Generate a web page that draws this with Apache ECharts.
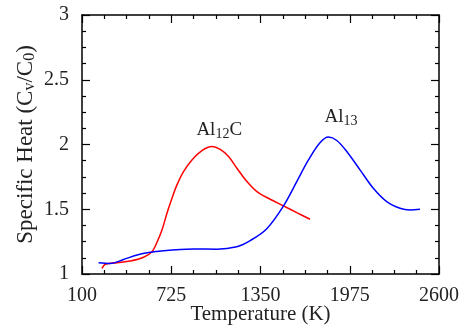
<!DOCTYPE html>
<html><head><meta charset="utf-8">
<script src="https://cdn.jsdelivr.net/npm/echarts@6/dist/echarts.min.js"></script>
<style>html,body{margin:0;padding:0;background:#fff}#c{width:466px;height:328px}</style>
</head><body><div id="c"></div>
<script>
const xTicks = [100, 725, 1350, 1975, 2600];
const yTicks = [1, 1.5, 2, 2.5, 3];
const al12cT = [240,263,345,438,531,590,625,660,695,730,765,811,870,940,1010,1068,1126,1185,1255,1325,1418,1511,1604,1697];
const al12cCv = [1.044,1.075,1.087,1.1,1.129,1.172,1.245,1.34,1.469,1.585,1.688,1.791,1.881,1.953,1.984,1.962,1.907,1.817,1.714,1.636,1.577,1.526,1.474,1.423];
const al13T = [216,298,391,485,578,671,788,881,1044,1184,1278,1394,1511,1604,1686,1768,1826,1884,1954,2047,2140,2234,2327,2397,2467];
const al13Cv = [1.087,1.081,1.112,1.147,1.168,1.18,1.19,1.193,1.192,1.211,1.258,1.35,1.526,1.714,1.881,2.015,2.057,2.031,1.946,1.804,1.662,1.559,1.508,1.495,1.5];
const labelAl12C = {x: 1061, y: 2.11};
const labelAl13 = {x: 1914, y: 2.21};

const font = 'Liberation Serif';
const txt = '#222';
const zip = (a, b) => a.map((v, i) => [v, b[i]]);
const axisCommon = {
  axisLine: {lineStyle: {color: '#000', width: 1.5}},
  axisTick: {inside: true, length: 8, lineStyle: {color: '#000', width: 1.2}},
  minorTick: {show: true, splitNumber: 4, length: 4, lineStyle: {color: '#000', width: 1.2}},
  splitLine: {show: false}
};
const xBase = Object.assign({type: 'value', min: xTicks[0], max: xTicks[xTicks.length-1], interval: xTicks[1]-xTicks[0]}, axisCommon);
const yBase = Object.assign({type: 'value', min: yTicks[0], max: yTicks[yTicks.length-1], interval: yTicks[1]-yTicks[0]}, axisCommon);
const rich = {
  a: {fontFamily: font, fontSize: 19, color: txt},
  s: {fontFamily: font, fontSize: 14, color: txt, verticalAlign: 'bottom', padding: [8, 0, 0, 0]}
};
const richY = {
  a: {fontFamily: font, fontSize: 23, color: txt},
  s: {fontFamily: font, fontSize: 16, color: txt, verticalAlign: 'bottom', padding: [9, 0, 0, 0]}
};
const chart = echarts.init(document.getElementById('c'));
chart.setOption({
  animation: false,
  grid: {left: 82, right: 27, top: 15, bottom: 54, containLabel: false, outerBoundsMode: 'none'},
  xAxis: [
    Object.assign({}, xBase, {
      position: 'bottom',
      name: 'Temperature (K)', nameLocation: 'middle', nameGap: 30, nameMoveOverlap: false,
      nameTextStyle: {fontFamily: font, fontSize: 21, color: txt},
      axisLabel: {fontFamily: font, fontSize: 20, color: txt, margin: 12, formatter: v => String(v)}
    }),
    Object.assign({}, xBase, {position: 'top', axisLabel: {show: false}})
  ],
  yAxis: [
    Object.assign({}, yBase, {
      position: 'left',
      name: '{a|Specific Heat (C}{s|v}{a|/C}{s|0}{a|)}', nameLocation: 'middle', nameGap: 44, nameMoveOverlap: false,
      nameTextStyle: {rich: richY},
      axisLabel: {fontFamily: font, fontSize: 20, color: txt, margin: 13}
    }),
    Object.assign({}, yBase, {position: 'right', axisLabel: {show: false}})
  ],
  series: [
    {
      name: 'Al12C', type: 'line', smooth: 0.35, showSymbol: false,
      data: zip(al12cT, al12cCv),
      lineStyle: {color: '#ff0000', width: 1.5},
      markPoint: {
        symbol: 'circle', symbolSize: 0,
        label: {show: true, position: 'inside', formatter: '{a|Al}{s|12}{a|C}', rich: rich},
        data: [{coord: [labelAl12C.x, labelAl12C.y]}]
      }
    },
    {
      name: 'Al13', type: 'line', smooth: 0.35, showSymbol: false,
      data: zip(al13T, al13Cv),
      lineStyle: {color: '#0000ff', width: 1.5},
      markPoint: {
        symbol: 'circle', symbolSize: 0,
        label: {show: true, position: 'inside', formatter: '{a|Al}{s|13}', rich: rich},
        data: [{coord: [labelAl13.x, labelAl13.y]}]
      }
    }
  ]
});
</script></body></html>
